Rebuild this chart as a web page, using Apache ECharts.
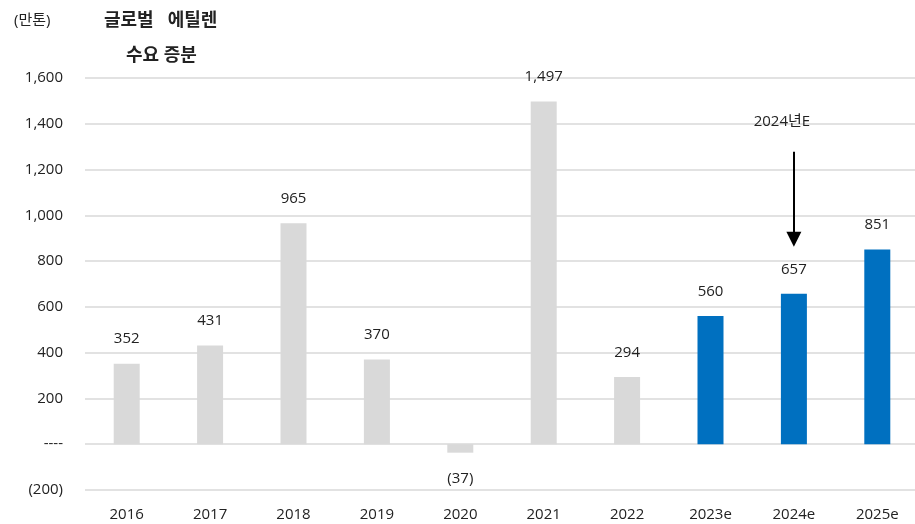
<!DOCTYPE html>
<html>
<head>
<meta charset="utf-8">
<script src="https://cdn.jsdelivr.net/npm/echarts@6/dist/echarts.min.js"></script>
<style>
  html, body { margin: 0; padding: 0; background: #fff; }
  #chart { width: 915px; height: 524px; }
</style>
</head>
<body>
<div id="chart"></div>
<script>
// Annual global ethylene demand increment (10k tonnes)
const years = ['2016', '2017', '2018', '2019', '2020', '2021', '2022', '2023e', '2024e', '2025e'];
const demandIncrement = [352, 431, 965, 370, -37, 1497, 294, 560, 657, 851];
const forecastFlags = [false, false, false, false, false, false, false, true, true, true];
const yTicks = [-200, 0, 200, 400, 600, 800, 1000, 1200, 1400, 1600];
const calloutText = '2024년E';
const calloutCategory = '2024e';
const calloutRange = [1278, 896];

const GRAY = '#d9d9d9';
const BLUE = '#0070c0';
const FONT = '"Open Sans", "Noto Sans CJK KR", sans-serif';

function fmt(v) {
  if (v === 0) return '----';
  const s = Math.abs(v).toLocaleString('en-US');
  return v < 0 ? '(' + s + ')' : s;
}

const chart = echarts.init(document.getElementById('chart'), null, { renderer: 'canvas' });

chart.setOption({
  animation: false,
  textStyle: { fontFamily: FONT },
  title: [
    { text: '(만톤)', left: 9, top: 8, textStyle: { fontSize: 15, fontWeight: 'normal', color: '#222', fontFamily: FONT } },
    { text: '글로벌   에틸렌', left: 99, top: 7, textStyle: { fontSize: 18, fontWeight: 'bold', color: '#222', fontFamily: FONT } },
    { text: '수요 증분', left: 121, top: 42, textStyle: { fontSize: 18, fontWeight: 'bold', color: '#222', fontFamily: FONT } }
  ],
  grid: { left: 85, top: 78, width: 834, bottom: 34, outerBoundsMode: 'none', containLabel: false },
  xAxis: {
    type: 'category',
    data: years,
    axisLine: { show: false },
    axisTick: { show: false },
    axisLabel: { color: '#222', fontSize: 15, margin: 17, fontFamily: FONT }
  },
  yAxis: {
    type: 'value',
    min: yTicks[0],
    max: yTicks[yTicks.length - 1],
    interval: 200,
    axisLine: { show: false },
    axisTick: { show: false },
    axisLabel: { color: '#222', fontSize: 15, margin: 22, fontFamily: FONT, formatter: fmt },
    splitLine: { lineStyle: { color: '#d9d9d9', width: 1.5 } }
  },
  series: [{
    type: 'bar',
    barWidth: 26,
    data: demandIncrement.map((v, i) => ({
      value: v,
      itemStyle: { color: forecastFlags[i] ? BLUE : GRAY },
      label: { position: v < 0 ? 'bottom' : 'top', distance: v < 0 ? 19 : 17 }
    })),
    label: {
      show: true,
      color: '#222',
      fontSize: 15,
      fontFamily: FONT,
      formatter: p => fmt(p.value)
    },
    markLine: {
      silent: true,
      symbol: ['none', 'triangle'],
      symbolSize: [15, 15],
      lineStyle: { color: '#000', width: 2, type: 'solid' },
      label: {
        show: true,
        position: 'start',
        distance: 22,
        padding: [0, 24, 0, 0],
        formatter: calloutText,
        color: '#222',
        fontSize: 15,
        fontFamily: FONT
      },
      data: [[
        { coord: [calloutCategory, calloutRange[0]] },
        { coord: [calloutCategory, calloutRange[1]] }
      ]]
    }
  }]
});
</script>
</body>
</html>
